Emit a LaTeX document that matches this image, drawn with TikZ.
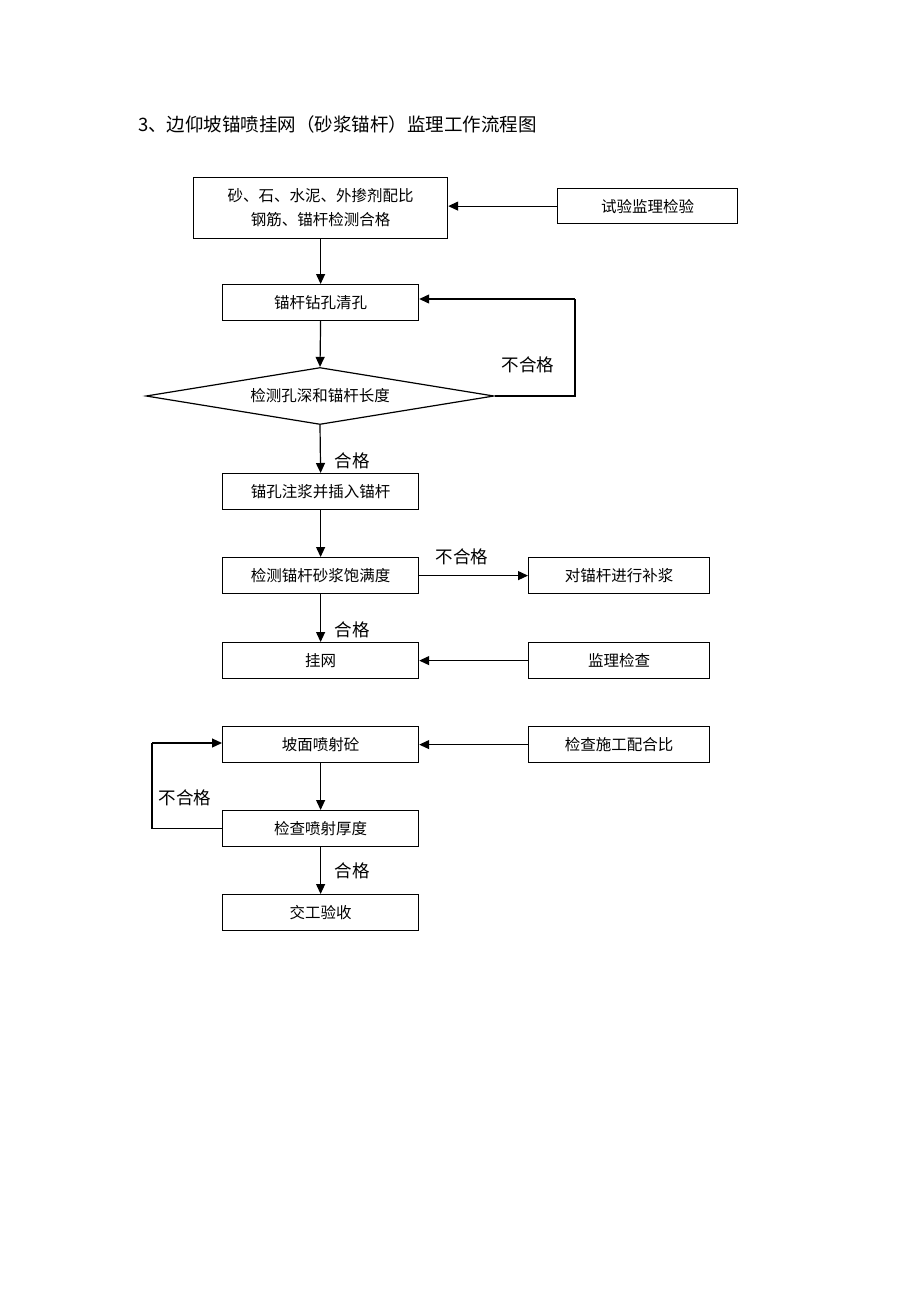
\documentclass[tikz,border=0pt]{standalone}
\usepackage{fontspec}
\newfontfamily\cjk{Noto Sans CJK SC}
\usetikzlibrary{arrows.meta,shapes.geometric}
\begin{document}
\begin{tikzpicture}[x=1pt,y=-1pt,
  every node/.style={font=\cjk},
  box/.style={draw,line width=1.2pt,minimum height=36pt,inner sep=0pt,font=\cjk\fontsize{15.5}{18}\selectfont,anchor=north west},
  lbl/.style={font=\cjk\fontsize{17.5}{20}\selectfont,inner sep=0pt},
  arr/.style={-{Triangle[length=10pt,width=9pt]},line width=1.2pt},
  ln/.style={line width=1.2pt}]
\useasboundingbox (0,0) rectangle (920,1302);
\node[anchor=base west,inner sep=0pt,font=\cjk\fontsize{18.5}{22}\selectfont] (title) at (138,131) {3、边仰坡锚喷挂网（砂浆锚杆）监理工作流程图};

\node[box,minimum width=254pt,minimum height=61pt,align=center,font=\cjk\fontsize{15.5}{24}\selectfont] (b1) at (193,177) {砂、石、水泥、外掺剂配比\\钢筋、锚杆检测合格};
\node[box,minimum width=180pt,minimum height=35pt] (t1) at (557,188) {试验监理检验};
\node[box,minimum width=196pt] (b2) at (222,284) {锚杆钻孔清孔};
\node[draw,line width=1.2pt,diamond,aspect=6.1,minimum width=348pt,minimum height=57pt,inner sep=0pt,font=\cjk\fontsize{15.5}{18}\selectfont] (d1) at (320,396) {检测孔深和锚杆长度};
\node[box,minimum width=196pt] (b3) at (222,473) {锚孔注浆并插入锚杆};
\node[box,minimum width=196pt] (b4) at (222,557) {检测锚杆砂浆饱满度};
\node[box,minimum width=181pt] (b5) at (528,557) {对锚杆进行补浆};
\node[box,minimum width=196pt] (b6) at (222,642) {挂网};
\node[box,minimum width=181pt] (b7) at (528,642) {监理检查};
\node[box,minimum width=196pt] (b8) at (222,726) {坡面喷射砼};
\node[box,minimum width=181pt] (b9) at (528,726) {检查施工配合比};
\node[box,minimum width=196pt] (b10) at (222,810) {检查喷射厚度};
\node[box,minimum width=196pt] (b11) at (222,894) {交工验收};

\coordinate (c1) at (575,396);
\coordinate (c2) at (575,299);
\coordinate (c3) at (152,828);
\coordinate (c4) at (152,743);

\draw[arr] (t1.west) -- (b1.east |- t1.west);
\draw[arr] (b1.south -| b2.south) -- (b2.north);
\draw[arr] (b2.south) -- (d1.north);
\draw[ln] (d1.east) -- (d1.east -| c1) -- (c2);
\draw[arr] (c2) -- (b2.east |- c2);
\node[lbl] (l1) at (528,365) {不合格};
\draw[arr] (d1.south) -- (b3.north);
\node[lbl] (l2) at (352,461) {合格};
\draw[arr] (b3.south) -- (b4.north);
\draw[arr] (b4.east) -- (b5.west);
\node[lbl] (l3) at (462,557) {不合格};
\draw[arr] (b4.south) -- (b6.north);
\node[lbl] (l4) at (352,630) {合格};
\draw[arr] (b7.west) -- (b6.east);
\draw[arr] (b9.west) -- (b8.east);
\draw[arr] (b8.south) -- (b10.north);
\draw[ln] (b10.west) -- (b10.west -| c3) -- (c4);
\draw[arr] (c4) -- (b8.west |- c4);
\node[lbl] (l5) at (185,798) {不合格};
\draw[arr] (b10.south) -- (b11.north);
\node[lbl] (l6) at (352,871) {合格};
\end{tikzpicture}
\end{document}
